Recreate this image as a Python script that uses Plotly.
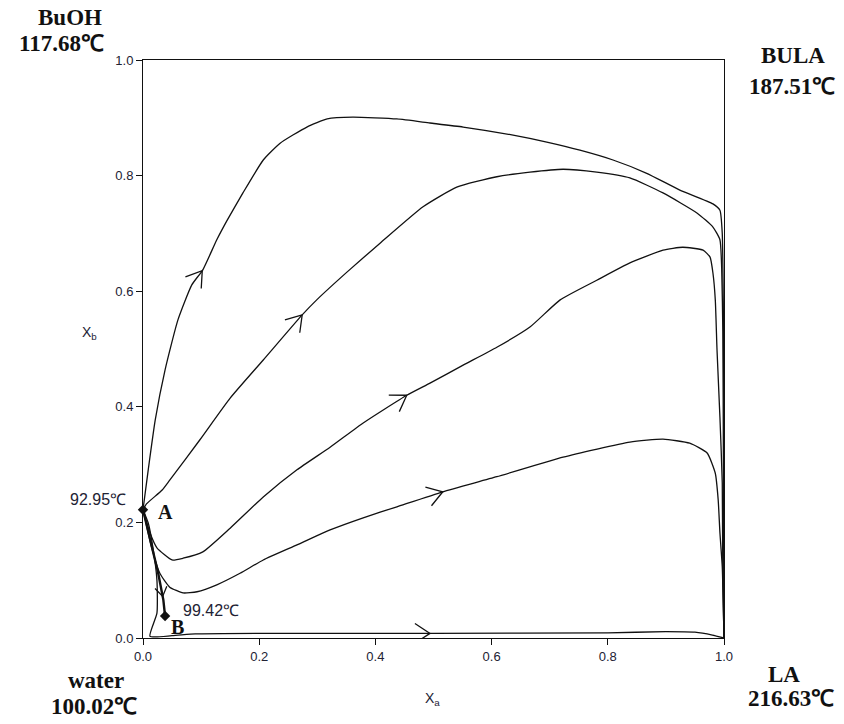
import numpy as np
import plotly.graph_objects as go

# ---- data ----
pt_A = (0.0, 0.222)
pt_B = (0.038, 0.038)

c1_x = [0.0, 0.009, 0.021, 0.038, 0.060, 0.084, 0.103, 0.127, 0.145, 0.172, 0.207, 0.236, 0.282, 0.317,
        0.361, 0.437, 0.494, 0.551, 0.637, 0.695, 0.752, 0.809, 0.867, 0.924, 0.981, 0.993, 0.997,
        0.999, 1.0, 1.0]
c1_y = [0.222, 0.291, 0.377, 0.464, 0.550, 0.611, 0.637, 0.689, 0.723, 0.770, 0.827, 0.856, 0.884, 0.898,
        0.901, 0.898, 0.891, 0.884, 0.870, 0.858, 0.844, 0.827, 0.804, 0.775, 0.751, 0.740, 0.700,
        0.550, 0.300, 0.0]

c2_x = [0.0, 0.006, 0.033, 0.046, 0.098, 0.150, 0.207, 0.274, 0.299, 0.351, 0.408, 0.482, 0.540, 0.609,
        0.666, 0.723, 0.781, 0.838, 0.895, 0.954, 0.981, 0.993, 0.996, 0.998, 0.999, 1.0]
c2_y = [0.222, 0.232, 0.256, 0.273, 0.343, 0.415, 0.481, 0.559, 0.585, 0.633, 0.683, 0.746, 0.780, 0.798,
        0.806, 0.811, 0.806, 0.796, 0.770, 0.735, 0.711, 0.689, 0.640, 0.530, 0.300, 0.0]

c3_x = [0.0, 0.012, 0.024, 0.050, 0.069, 0.103, 0.150, 0.207, 0.265, 0.322, 0.379, 0.454, 0.494, 0.551,
        0.609, 0.666, 0.718, 0.781, 0.838, 0.895, 0.929, 0.964, 0.976, 0.981, 0.985, 0.988, 0.993,
        0.997, 0.998, 1.0]
c3_y = [0.222, 0.182, 0.156, 0.135, 0.138, 0.149, 0.190, 0.244, 0.291, 0.330, 0.372, 0.420, 0.441, 0.472,
        0.503, 0.538, 0.585, 0.619, 0.649, 0.671, 0.676, 0.671, 0.659, 0.631, 0.585, 0.498, 0.382,
        0.268, 0.095, 0.0]

c4_x = [0.0, 0.015, 0.029, 0.046, 0.069, 0.093, 0.127, 0.167, 0.207, 0.265, 0.322, 0.379, 0.437, 0.516,
        0.609, 0.723, 0.838, 0.895, 0.941, 0.971, 0.985, 0.990, 0.993, 0.997, 1.0]
c4_y = [0.222, 0.156, 0.112, 0.088, 0.078, 0.080, 0.092, 0.112, 0.135, 0.161, 0.187, 0.208, 0.227, 0.253,
        0.279, 0.313, 0.339, 0.344, 0.337, 0.320, 0.285, 0.239, 0.182, 0.123, 0.0]

c5_x = [0.0, 0.009, 0.017, 0.024, 0.024, 0.012, 0.05, 0.09, 0.2, 0.5, 0.8, 0.9, 0.95, 0.98, 1.0]
c5_y = [0.222, 0.199, 0.157, 0.100, 0.043, 0.003, 0.004, 0.007, 0.008, 0.008, 0.009, 0.011, 0.010, 0.005, 0.0]

ab_x = [0.0, 0.012, 0.026, 0.035, 0.038]
ab_y = [0.222, 0.170, 0.113, 0.066, 0.038]

ticks = [0.0, 0.2, 0.4, 0.6, 0.8, 1.0]

# arrow positions along curves (curve, coordinate key, value, arm length px)
arrow_specs = [(c1_x, c1_y, 'x', 0.102, 18), (c2_x, c2_y, 'x', 0.274, 18), (c3_x, c3_y, 'x', 0.454, 18),
               (c4_x, c4_y, 'x', 0.516, 18), (c5_x, c5_y, 'x', 0.494, 18), (ab_x, ab_y, 'y', 0.072, 11)]

PX, PY = 581.0, 578.0  # pixel size of one data unit


def chevron(xs, ys, at, key='x', arm=18, ang=33):
    xs = np.asarray(xs, float)
    ys = np.asarray(ys, float)
    k = xs if key == 'x' else ys
    i, t = 0, 0.0
    for j in range(len(k) - 1):
        if k[j] != k[j + 1] and min(k[j], k[j + 1]) <= at <= max(k[j], k[j + 1]):
            i, t = j, (at - k[j]) / (k[j + 1] - k[j])
            break
    tx = xs[i] + t * (xs[i + 1] - xs[i])
    ty = ys[i] + t * (ys[i + 1] - ys[i])
    dx = (xs[i + 1] - xs[i]) * PX
    dy = (ys[i + 1] - ys[i]) * PY
    back = np.arctan2(-dy, -dx)
    pts = []
    for s in (1, -1):
        a = back + s * np.radians(ang)
        pts.append((tx + arm * np.cos(a) / PX, ty + arm * np.sin(a) / PY))
    return [pts[0][0], tx, pts[1][0], None], [pts[0][1], ty, pts[1][1], None]


fig = go.Figure()
line_style = dict(color="#111111", width=1.3, shape="spline", smoothing=0.5)
for xs, ys in [(c1_x, c1_y), (c2_x, c2_y), (c3_x, c3_y), (c4_x, c4_y), (c5_x, c5_y)]:
    fig.add_trace(go.Scatter(x=xs, y=ys, mode="lines", line=line_style,
                             cliponaxis=False, showlegend=False, hoverinfo="skip"))
fig.add_trace(go.Scatter(x=ab_x, y=ab_y, mode="lines", line=dict(color="#111111", width=2.4),
                         cliponaxis=False, showlegend=False, hoverinfo="skip"))

ax, ay = [], []
for xs, ys, key, at, arm in arrow_specs:
    cx, cy = chevron(xs, ys, at, key, arm=arm)
    ax += cx
    ay += cy
fig.add_trace(go.Scatter(x=ax, y=ay, mode="lines", line=dict(color="#111111", width=1.3),
                         cliponaxis=False, showlegend=False, hoverinfo="skip"))

fig.add_trace(go.Scatter(x=[pt_A[0], pt_B[0]], y=[pt_A[1], pt_B[1]], mode="markers",
                         marker=dict(symbol="diamond", size=8, color="#111111"),
                         cliponaxis=False, showlegend=False, hoverinfo="skip"))

serif_bold = dict(family="Liberation Serif, Times New Roman, serif", size=23, color="#111111")
serif_ab = dict(family="Liberation Serif, Times New Roman, serif", size=20, color="#111111")
sans = dict(family="Liberation Sans, Arial, sans-serif", size=16, color="#222233")

annots = [
    ("<b>BuOH</b>", -0.126, 1.073, serif_bold),
    ("<b>117.68℃</b>", -0.140, 1.029, serif_bold),
    ("<b>BULA</b>", 1.119, 1.007, serif_bold),
    ("<b>187.51℃</b>", 1.117, 0.955, serif_bold),
    ("<b>water</b>", -0.081, -0.074, serif_bold),
    ("<b>100.02℃</b>", -0.084, -0.119, serif_bold),
    ("<b>LA</b>", 1.103, -0.064, serif_bold),
    ("<b>216.63℃</b>", 1.115, -0.105, serif_bold),
    ("<b>A</b>", 0.038, 0.218, serif_ab),
    ("<b>B</b>", 0.060, 0.019, serif_ab),
]
for text, x, y, f in annots:
    fig.add_annotation(text=text, x=x, y=y, xref="paper", yref="paper", showarrow=False,
                       font=f, xanchor="center", yanchor="middle")

fig.add_annotation(text="92.95℃", x=-0.026, y=0.239, xref="paper", yref="paper", showarrow=False,
                   font=sans, xanchor="right", yanchor="middle")
fig.add_annotation(text="99.42℃", x=0.066, y=0.047, xref="paper", yref="paper", showarrow=False,
                   font=sans, xanchor="left", yanchor="middle")
fig.add_annotation(text="X<sub>b</sub>", x=-0.092, y=0.528, xref="paper", yref="paper", showarrow=False,
                   font=dict(family="Liberation Sans, Arial, sans-serif", size=14, color="#222233"),
                   xanchor="center", yanchor="middle")
fig.add_annotation(text="X<sub>a</sub>", x=0.499, y=-0.105, xref="paper", yref="paper", showarrow=False,
                   font=dict(family="Liberation Sans, Arial, sans-serif", size=14, color="#222233"),
                   xanchor="center", yanchor="middle")

axis_common = dict(range=[0, 1], tickvals=ticks, ticktext=[f"{t:.1f}" for t in ticks],
                   showgrid=False, zeroline=False, showline=True, linecolor="#111111", linewidth=1,
                   mirror=True, ticks="outside", ticklen=6, tickcolor="#111111",
                   tickfont=dict(family="Liberation Sans, Arial, sans-serif", size=13, color="#222233"))
fig.update_xaxes(**axis_common)
fig.update_yaxes(**axis_common)
fig.update_layout(width=844, height=724, margin=dict(l=143, r=120, t=60, b=86),
                  plot_bgcolor="white", paper_bgcolor="white", showlegend=False)

fig.write_html("out.html")
